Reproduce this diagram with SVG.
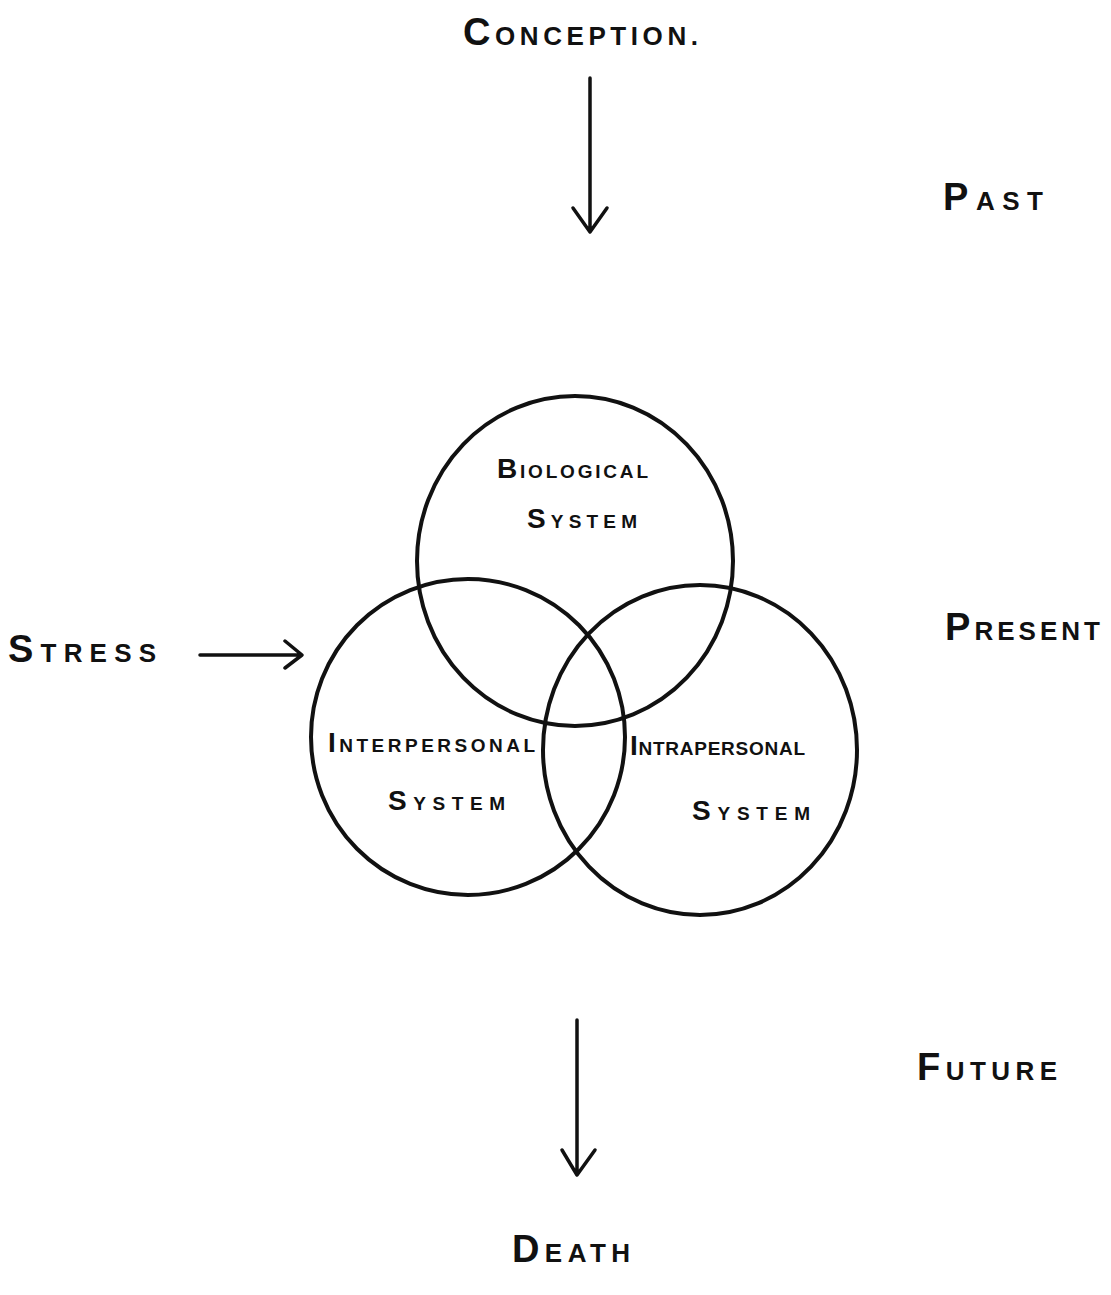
<svg xmlns="http://www.w3.org/2000/svg" width="1111" height="1295" viewBox="0 0 1111 1295">
<defs>
<style>
.lbl{font-family:"Liberation Sans","DejaVu Sans",sans-serif;font-weight:bold;fill:#111;}
.big{font-size:38px;}
.mid{font-size:26px;}
.sbig{font-size:28px;}
.smid{font-size:19px;}
.ring{fill:none;stroke:#111;stroke-width:4;}
.con{fill:none;stroke:#111;stroke-width:3.5;stroke-linecap:round;stroke-linejoin:round;}
</style>
</defs>
<rect width="1111" height="1295" fill="#ffffff"/>
<g id="conception"><text class="lbl mid" x="463" y="45" textLength="235" lengthAdjust="spacing"><tspan class="big">C</tspan>ONCEPTION.</text></g>
<g id="past"><text class="lbl mid" x="943" y="210" textLength="100" lengthAdjust="spacing"><tspan class="big">P</tspan>AST</text></g>
<g id="present"><text class="lbl mid" x="945" y="640" textLength="155" lengthAdjust="spacing"><tspan class="big">P</tspan>RESENT</text></g>
<g id="future"><text class="lbl mid" x="917" y="1080" textLength="140" lengthAdjust="spacing"><tspan class="big">F</tspan>UTURE</text></g>
<g id="stress"><text class="lbl mid" x="8" y="662" textLength="148" lengthAdjust="spacing"><tspan class="big">S</tspan>TRESS</text></g>
<g id="death"><text class="lbl mid" x="512" y="1262" textLength="118" lengthAdjust="spacing"><tspan class="big">D</tspan>EATH</text></g>
<g id="biological">
<ellipse class="ring" cx="575" cy="561" rx="158" ry="165"/>
<text class="lbl smid" x="497" y="478" textLength="151" lengthAdjust="spacing"><tspan class="sbig">B</tspan>IOLOGICAL</text>
<text class="lbl smid" x="527" y="528" textLength="110" lengthAdjust="spacing"><tspan class="sbig">S</tspan>YSTEM</text>
</g>
<g id="interpersonal">
<ellipse class="ring" cx="468" cy="737" rx="157" ry="158"/>
<text class="lbl smid" x="328" y="752" textLength="207" lengthAdjust="spacing"><tspan class="sbig">I</tspan>NTERPERSONAL</text>
<text class="lbl smid" x="388" y="810" textLength="117" lengthAdjust="spacing"><tspan class="sbig">S</tspan>YSTEM</text>
</g>
<g id="intrapersonal">
<ellipse class="ring" cx="700" cy="750" rx="157" ry="165"/>
<text class="lbl smid" x="630" y="755" textLength="175" lengthAdjust="spacing"><tspan class="sbig">I</tspan>NTRAPERSONAL</text>
<text class="lbl smid" x="692" y="820" textLength="118" lengthAdjust="spacing"><tspan class="sbig">S</tspan>YSTEM</text>
</g>
<g id="connectors">
<path class="con" d="M590 78 L590 232 M573 208 L590 232 L607 208"/>
<path class="con" d="M200 655 L301 655 M285 641 L302 655 L285 668"/>
<path class="con" d="M577 1020 L577 1175 M562 1150 L577 1175 L595 1150"/>
</g>
</svg>
